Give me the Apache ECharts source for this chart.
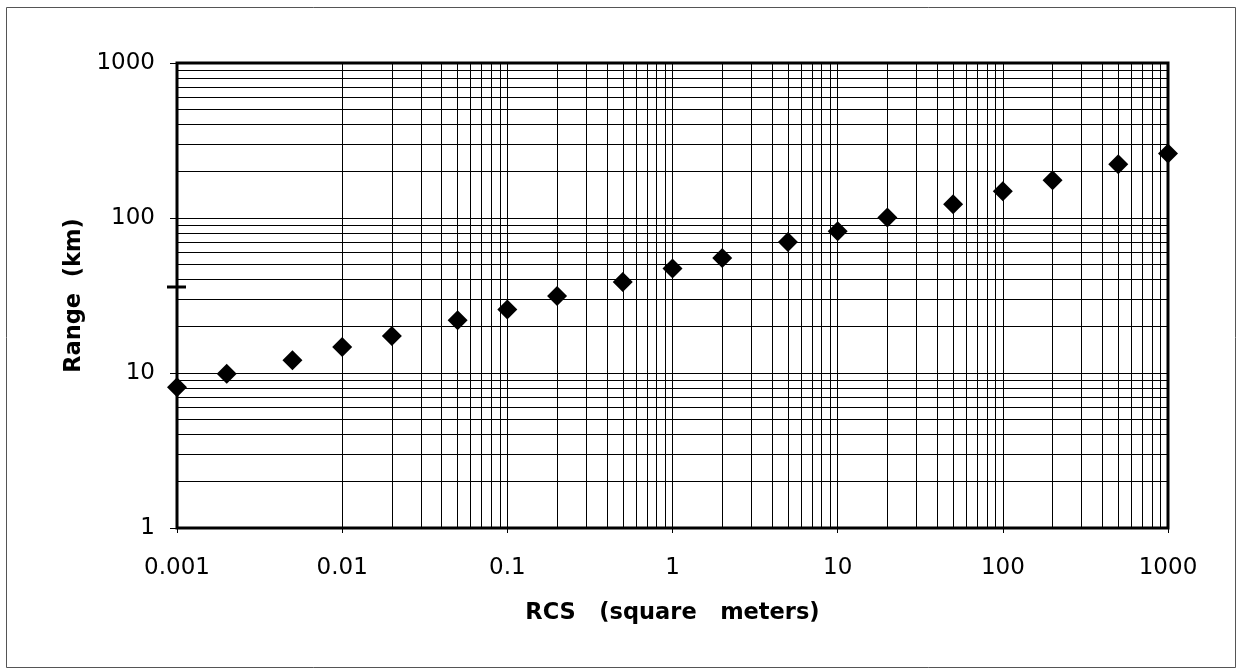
<!DOCTYPE html>
<html>
<head>
<meta charset="utf-8">
<script src="https://cdn.jsdelivr.net/npm/echarts@6/dist/echarts.min.js"></script>
<style>
html,body{margin:0;padding:0;background:#fff;}
#chart{width:1237px;height:671px;}
</style>
</head>
<body>
<div id="chart"></div>
<script>
// ---- data ----
const rcs = [0.001, 0.002, 0.005, 0.01, 0.02, 0.05, 0.1, 0.2, 0.5, 1, 2, 5, 10, 20, 50, 100, 200, 500, 1000];
const rangeKm = [8.1, 9.9, 12.1, 14.7, 17.3, 21.9, 25.7, 31.4, 38.6, 47.2, 55.2, 70.0, 82.1, 100.6, 122.5, 148.7, 175.0, 221.9, 260.3];
const xTickLabels = ['0.001', '0.01', '0.1', '1', '10', '100', '1000'];
const yTickLabels = ['1', '10', '100', '1000'];
const minorSteps = [2, 3, 4, 5, 6, 7, 8, 9];
const xTitle = 'RCS   (square   meters)';
const yTitle = 'Range  (km)';

// minor grid values (2..9 within each decade), derived from the tick labels
function minorValues(labels) {
  const out = [];
  for (let i = 0; i < labels.length - 1; i++) {
    const base = parseFloat(labels[i]);
    minorSteps.forEach(m => out.push(+(base * m).toPrecision(6)));
  }
  return out;
}
const xMinor = minorValues(xTickLabels);
const yMinor = minorValues(yTickLabels);

function labelFor(labels) {
  return function (v) {
    const hit = labels.find(l => Math.abs(Math.log10(parseFloat(l)) - Math.log10(v)) < 1e-6);
    return hit || '';
  };
}

const FONT = 'DejaVu Sans';
const chart = echarts.init(document.getElementById('chart'), null, {renderer: 'canvas'});
chart.setOption({
  animation: false,
  backgroundColor: '#fff',
  grid: {
    left: 177, right: 69, top: 63, bottom: 143,
    show: true, borderColor: '#000', borderWidth: 3, backgroundColor: 'transparent'
  },
  xAxis: {
    type: 'log', logBase: 10,
    min: parseFloat(xTickLabels[0]), max: parseFloat(xTickLabels[xTickLabels.length - 1]),
    name: xTitle, nameLocation: 'middle', nameGap: 74,
    nameTextStyle: {fontFamily: FONT, fontWeight: 'bold', fontSize: 22.5, color: '#000'},
    axisLine: {show: false},
    axisTick: {show: true, length: 5, lineStyle: {color: '#000', width: 1}},
    axisLabel: {formatter: labelFor(xTickLabels), fontFamily: FONT, fontSize: 23, color: '#000', margin: 29},
    splitLine: {show: true, lineStyle: {color: '#000', width: 1}},
    minorTick: {show: false}, minorSplitLine: {show: false}
  },
  yAxis: {
    type: 'log', logBase: 10,
    min: parseFloat(yTickLabels[0]), max: parseFloat(yTickLabels[yTickLabels.length - 1]),
    name: yTitle, nameLocation: 'middle', nameGap: 67,
    nameTextStyle: {fontFamily: FONT, fontWeight: 'bold', fontSize: 22.5, color: '#000'},
    axisLine: {show: false},
    axisTick: {show: true, length: 7, lineStyle: {color: '#000', width: 1}},
    axisLabel: {formatter: labelFor(yTickLabels), fontFamily: FONT, fontSize: 23, color: '#000', margin: 22},
    splitLine: {show: true, lineStyle: {color: '#000', width: 1}},
    minorTick: {show: false}, minorSplitLine: {show: false}
  },
  series: [
    {
      type: 'scatter', z: 1, silent: true,
      data: [[1, 10]], symbolSize: 0, itemStyle: {opacity: 0},
      markLine: {
        silent: true, animation: false,
        symbol: ['none', 'none'],
        label: {show: false},
        emphasis: {disabled: true},
        lineStyle: {color: '#000', width: 1, type: 'solid'},
        data: xMinor.map(v => ({xAxis: v})).concat(yMinor.map(v => ({yAxis: v})))
      }
    },
    {
      type: 'scatter', z: 5, clip: false,
      symbol: 'diamond', symbolSize: [20, 20],
      itemStyle: {color: '#000', opacity: 1},
      data: rcs.map((x, i) => [x, rangeKm[i]])
    }
  ],
  graphic: [
    {type: 'rect', shape: {x: 6.5, y: 7.5, width: 1229, height: 660},
     style: {fill: 'none', stroke: '#555', lineWidth: 1}, z: 100},
    {type: 'line', shape: {x1: 167, y1: 287, x2: 186, y2: 287},
     style: {stroke: '#000', lineWidth: 3}, z: 100}
  ]
});
</script>
</body>
</html>
